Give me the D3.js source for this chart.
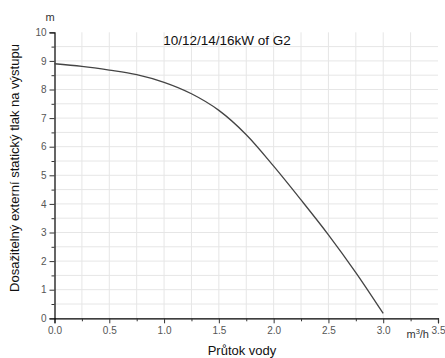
<!DOCTYPE html>
<html><head><meta charset="utf-8">
<script src="https://cdn.jsdelivr.net/npm/d3@7"></script>
<style>body{margin:0;background:#fff}svg{display:block}text{font-family:"Liberation Sans",Arial,sans-serif}</style>
</head><body><svg id="c" width="445" height="358"></svg>
<script>
const flow = [0, 0.25, 0.5, 0.75, 1.0, 1.25, 1.5, 1.75, 2.0, 2.25, 2.5, 2.75, 3.0];
const head = [8.9, 8.81, 8.68, 8.52, 8.25, 7.85, 7.27, 6.42, 5.32, 4.14, 2.92, 1.6, 0.17];
const xTicks = [0, 0.5, 1.0, 1.5, 2.0, 2.5, 3.0, 3.5];
const yTicks = [0, 1, 2, 3, 4, 5, 6, 7, 8, 9, 10];
const title = "10/12/14/16kW of G2";
const xTitle = "Průtok vody";
const yTitle = "Dosažitelný externí statický tlak na výstupu";

const svg = d3.select("#c");
const x = d3.scaleLinear().domain([0, 3.5]).range([54.5, 438]);
const y = d3.scaleLinear().domain([0, 10]).range([318.3, 32.3]);

// grid
const g = svg.append("g");
g.selectAll(".vg").data(d3.range(1, 14).map(i => i * 0.25)).enter().append("line")
  .attr("x1", d => x(d)).attr("x2", d => x(d)).attr("y1", y(0)).attr("y2", y(10))
  .attr("stroke", "#e6e6e6").attr("stroke-width", 1);
g.selectAll(".hg").data(d3.range(1, 20).map(i => i * 0.5)).enter().append("line")
  .attr("x1", x(0)).attr("x2", x(3.5)).attr("y1", d => y(d)).attr("y2", d => y(d))
  .attr("stroke", "#e6e6e6").attr("stroke-width", 1);

// axes
svg.append("g").attr("transform", `translate(0,${y(0)})`)
  .call(d3.axisBottom(x).tickValues(xTicks).tickFormat(d3.format(".1f")).tickSize(5).tickPadding(4));
svg.append("g").attr("transform", `translate(0,${y(0)})`)
  .call(d3.axisBottom(x).tickValues(d3.range(0, 7).map(i => 0.25 + i * 0.5)).tickFormat("").tickSize(3))
  .select(".domain").remove();
svg.append("g").attr("transform", `translate(${x(0)},0)`)
  .call(d3.axisLeft(y).tickValues(yTicks).tickSize(5).tickPadding(3));
svg.append("g").attr("transform", `translate(${x(0)},0)`)
  .call(d3.axisLeft(y).tickValues(d3.range(0, 10).map(i => i + 0.5)).tickFormat("").tickSize(3))
  .select(".domain").remove();
svg.selectAll(".domain").attr("stroke", "#000").attr("stroke-width", 1.2);
svg.selectAll(".tick line").attr("stroke", "#333");
svg.selectAll(".tick text").attr("fill", "#555").style("font-size", "10px");

// curve
const pts = flow.map((f, i) => [f, head[i]]);
svg.append("path").datum(pts)
  .attr("d", d3.line().x(d => x(d[0])).y(d => y(d[1])).curve(d3.curveCatmullRom.alpha(0.5)))
  .attr("fill", "none").attr("stroke", "#444").attr("stroke-width", 1.3);

// texts
svg.append("text").attr("x", 227).attr("y", 44.5).attr("text-anchor", "middle")
  .style("font-size", "13.5px").attr("fill", "#111").text(title);
svg.append("text").attr("x", 50).attr("y", 21).attr("text-anchor", "middle")
  .style("font-size", "11px").attr("fill", "#333").text("m");
const u = svg.append("text").attr("x", 429).attr("y", 338).attr("text-anchor", "end")
  .style("font-size", "11px").attr("fill", "#333");
u.append("tspan").text("m");
u.append("tspan").attr("dy", -4).style("font-size", "7.5px").text("3");
u.append("tspan").attr("dy", 4).text("/h");
svg.append("text").attr("x", 242).attr("y", 355).attr("text-anchor", "middle")
  .style("font-size", "13px").attr("fill", "#111").text(xTitle);
svg.append("text").attr("transform", "translate(19,168) rotate(-90)").attr("text-anchor", "middle")
  .style("font-size", "13px").attr("fill", "#111").text(yTitle);
</script></body></html>
